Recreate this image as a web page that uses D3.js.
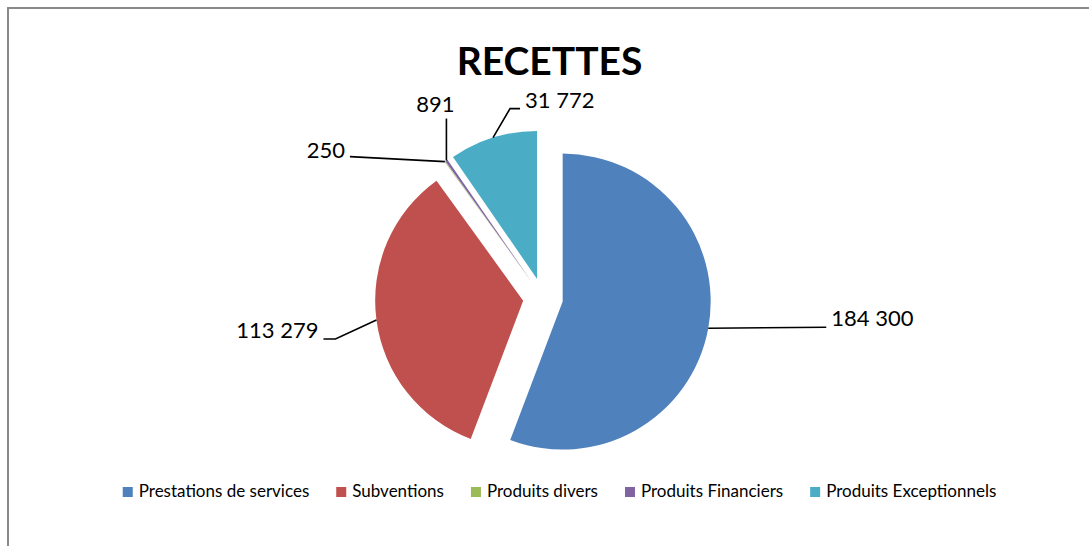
<!DOCTYPE html>
<html><head><meta charset="utf-8">
<script src="https://cdn.jsdelivr.net/npm/d3@7"></script>
<style>body{margin:0;background:#fff}svg{display:block}</style>
</head><body>
<svg id="c" width="1089" height="546"></svg>
<script>
const title = "RECETTES";
const categories = ["Prestations de services","Subventions","Produits divers","Produits Financiers","Produits Exceptionnels"];
const values = [184300,113279,250,891,31772];
const colors = ["#4F81BD","#C0504D","#9BBB59","#8064A2","#4BACC6"];

// leader-line layout: offsets relative to the slice's outer arc point
const leaders = [
  {pts:[[118,-1]], anchor:"start", tx:123, ty:-2},
  {pts:[[-41,19],[-53,19]], anchor:"end", tx:-58, ty:18},
  {pts:[[-95,-5]], anchor:"end", tx:-100, ty:-4},
  {pts:[[0,-42]], anchor:"middle", tx:-11, ty:-49},
  {pts:[[17,-29],[27,-29]], anchor:"start", tx:32, ty:-30}
];

const svg = d3.select("#c");
const cx = 543, cy = 298, R = 148, explode = 20;
const font = "Lato, 'Open Sans', sans-serif";

svg.append("rect").attr("x",8).attr("y",8).attr("width",1200).attr("height",700)
  .attr("fill","none").attr("stroke","#8a8a8a").attr("stroke-width",2);

svg.append("text").attr("x",549.5).attr("y",75).attr("text-anchor","middle")
  .attr("font-family",font).attr("font-weight","bold").attr("font-size",39)
  .attr("fill","#000").text(title);

const fmt = d3.formatLocale({thousands:" ", grouping:[3], decimal:","}).format(",d");
const pie = d3.pie().sort(null).value(d=>d)(values);
const arc = d3.arc().innerRadius(0).outerRadius(R);

const dir = a => [Math.sin(a), -Math.cos(a)];

const g = svg.append("g");
pie.forEach((p,i)=>{
  const mid = (p.startAngle+p.endAngle)/2;
  const [ux,uy] = dir(mid);
  const vx = cx + explode*ux, vy = cy + explode*uy;
  g.append("path").attr("d",arc(p)).attr("transform",`translate(${vx},${vy})`)
    .attr("fill",colors[i]);
});

pie.forEach((p,i)=>{
  const mid = (p.startAngle+p.endAngle)/2;
  const [ux,uy] = dir(mid);
  const ax = cx + (explode+R)*ux, ay = cy + (explode+R)*uy;
  const L = leaders[i];
  const pts = [[ax,ay]].concat(L.pts.map(q=>[ax+q[0],ay+q[1]]));
  svg.append("path").attr("d",d3.line()(pts)).attr("fill","none")
    .attr("stroke","#000").attr("stroke-width",1.6);
  svg.append("text").attr("x",ax+L.tx).attr("y",ay+L.ty).attr("text-anchor",L.anchor)
    .attr("font-family",font).attr("font-size",22).attr("fill","#000").text(fmt(values[i]));
});

// legend
const lg = svg.append("g");
let x = 0;
categories.forEach((c,i)=>{
  const it = lg.append("g");
  it.append("rect").attr("x",x).attr("y",487).attr("width",10).attr("height",10).attr("fill",colors[i]);
  const t = it.append("text").attr("x",x+16).attr("y",497).attr("font-family",font)
    .attr("font-size",17).attr("fill","#000").text(c);
  const w = t.node().getComputedTextLength();
  x += 16 + w + 27;
});
const total = x - 27;
lg.attr("transform",`translate(${559.5 - total/2},0)`);
</script>
</body></html>
